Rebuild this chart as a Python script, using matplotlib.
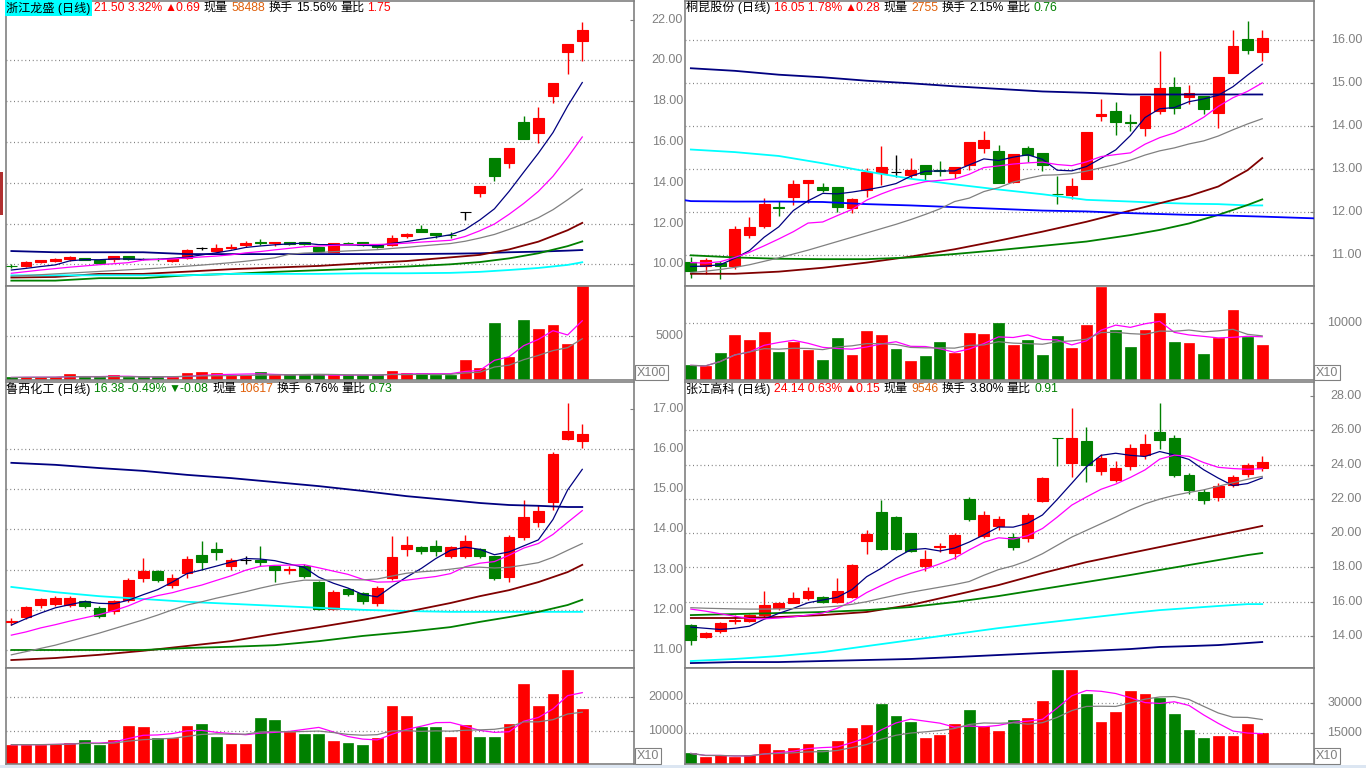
import matplotlib
matplotlib.use('Agg')
import matplotlib.pyplot as plt
from matplotlib.transforms import blended_transform_factory
import numpy as np
import pandas as pd

# ---------------- data ----------------
# 浙江龙盛 (top-left)
tl_open  = [9.93, 9.94, 10.13, 10.18, 10.26, 10.31, 10.20, 10.24, 10.41, 10.27,
            10.26, 10.18, 10.29, 10.78, 10.65, 10.78, 10.93, 11.07, 11.02, 11.07,
            11.07, 10.86, 10.62, 11.03, 11.07, 10.94, 10.94, 11.40, 11.72, 11.53,
            11.46, 12.55, 13.50, 15.19, 14.98, 16.99, 16.46, 18.26, 20.41, 20.95]
tl_high  = [10.00, 10.16, 10.21, 10.33, 10.41, 10.31, 10.20, 10.41, 10.41, 10.31,
            10.33, 10.31, 10.75, 10.87, 10.99, 10.98, 11.15, 11.22, 11.07, 11.10,
            11.07, 10.86, 11.04, 11.07, 11.10, 10.94, 11.43, 11.51, 11.92, 11.53,
            11.56, 12.55, 13.82, 15.19, 15.72, 17.28, 17.72, 18.89, 20.81, 21.90]
tl_low   = [9.82, 9.89, 10.08, 10.13, 10.16, 10.19, 10.05, 10.11, 10.23, 10.20,
            10.18, 10.11, 10.24, 10.70, 10.62, 10.75, 10.86, 10.94, 10.89, 10.97,
            10.95, 10.62, 10.60, 10.99, 10.89, 10.78, 10.89, 11.27, 11.56, 11.27,
            11.30, 12.16, 13.30, 14.07, 14.72, 16.13, 15.93, 17.93, 19.35, 19.97]
tl_close = [9.92, 10.10, 10.21, 10.26, 10.36, 10.21, 10.08, 10.41, 10.24, 10.26,
            10.25, 10.31, 10.70, 10.78, 10.78, 10.83, 11.04, 11.06, 11.07, 11.01,
            11.01, 10.67, 11.04, 11.02, 10.94, 10.86, 11.27, 11.48, 11.59, 11.45,
            11.45, 12.55, 13.82, 14.33, 15.72, 16.16, 17.19, 18.89, 20.81, 21.50]
tl_vol   = [344, 382, 382, 382, 687, 382, 382, 573, 382, 382,
            382, 382, 802, 916, 802, 573, 573, 916, 573, 611,
            611, 611, 611, 611, 611, 611, 1030, 802, 802, 611,
            611, 2290, 1374, 6527, 2634, 6870, 5840, 6298, 4122, 10650]

# 桐昆股份 (top-right)
tr_open  = [10.85, 10.74, 10.81, 10.76, 11.47, 11.68, 12.12, 12.36, 12.69, 12.58,
            12.58, 12.11, 12.52, 12.92, 12.93, 12.87, 13.10, 12.98, 12.91, 13.10,
            13.50, 13.43, 12.71, 13.50, 13.38, 12.43, 12.40, 12.78, 14.24, 14.36,
            14.09, 13.97, 14.36, 14.91, 14.67, 14.71, 14.32, 15.23, 16.03, 15.72]
tr_high  = [10.95, 10.93, 10.87, 11.67, 11.89, 12.33, 12.26, 12.75, 12.74, 12.68,
            12.58, 12.34, 13.04, 13.54, 13.33, 13.26, 13.10, 13.19, 13.05, 13.63,
            13.89, 13.57, 13.36, 13.55, 13.38, 12.85, 12.79, 13.86, 14.64, 14.57,
            14.29, 14.71, 15.75, 15.14, 14.95, 14.71, 15.14, 16.24, 16.45, 16.24]
tr_low   = [10.47, 10.57, 10.44, 10.67, 11.41, 11.64, 11.91, 12.17, 12.21, 12.48,
            12.00, 11.98, 12.36, 12.64, 12.83, 12.79, 12.75, 12.85, 12.79, 12.98,
            13.37, 12.69, 12.69, 13.16, 12.97, 12.19, 12.31, 12.78, 14.12, 13.80,
            13.89, 13.78, 14.28, 14.28, 14.52, 14.29, 13.95, 15.23, 15.69, 15.52]
tr_close = [10.64, 10.88, 10.76, 11.61, 11.66, 12.19, 12.09, 12.66, 12.74, 12.52,
            12.13, 12.30, 12.93, 13.05, 12.93, 12.98, 12.88, 12.97, 13.05, 13.63,
            13.68, 12.69, 13.36, 13.33, 13.10, 12.42, 12.61, 13.86, 14.28, 14.09,
            14.08, 14.71, 14.88, 14.42, 14.77, 14.40, 15.14, 15.87, 15.77, 16.05]
tr_vol   = [2647, 2470, 4823, 7941, 7058, 8470, 4941, 6764, 5294, 3529,
            7411, 4412, 8647, 7941, 5470, 3411, 4235, 6705, 4823, 8353,
            8176, 10058, 6176, 7058, 4412, 7764, 5705, 9705, 16411, 8823,
            5823, 8823, 11823, 6764, 6588, 4588, 7470, 12352, 7647, 6176]

# 鲁西化工 (bottom-left)
bl_open  = [11.70, 11.82, 12.12, 12.15, 12.12, 12.22, 12.05, 11.97, 12.25, 12.79,
            12.97, 12.62, 12.92, 13.37, 13.51, 13.09, 13.24, 13.24, 13.09, 12.99,
            13.09, 12.69, 12.02, 12.52, 12.42, 12.17, 12.79, 13.51, 13.56, 13.59,
            13.34, 13.34, 13.51, 13.34, 12.81, 13.81, 14.19, 14.68, 16.25, 16.20]
bl_high  = [11.80, 12.10, 12.30, 12.35, 12.35, 12.25, 12.10, 12.25, 12.80, 13.30,
            13.00, 12.90, 13.35, 13.72, 13.70, 13.30, 13.35, 13.60, 13.10, 13.10,
            13.15, 12.72, 12.50, 12.55, 12.45, 12.60, 13.85, 13.85, 13.60, 13.75,
            13.60, 13.86, 13.55, 13.35, 13.86, 14.73, 14.61, 15.93, 17.15, 16.63]
bl_low   = [11.62, 11.78, 12.05, 12.10, 12.08, 12.05, 11.80, 11.90, 12.20, 12.70,
            12.70, 12.55, 12.80, 13.00, 13.25, 13.00, 13.15, 13.09, 12.69, 12.90,
            12.80, 12.00, 12.00, 12.35, 12.15, 12.10, 12.75, 13.35, 13.40, 13.35,
            13.30, 13.30, 13.30, 12.75, 12.70, 13.75, 14.05, 14.48, 16.22, 16.03]
bl_close = [11.72, 12.07, 12.27, 12.30, 12.29, 12.10, 11.85, 12.22, 12.74, 12.97,
            12.74, 12.79, 13.27, 13.19, 13.45, 13.24, 13.24, 13.20, 12.99, 13.02,
            12.84, 12.02, 12.44, 12.39, 12.22, 12.54, 13.32, 13.61, 13.46, 13.46,
            13.56, 13.71, 13.34, 12.79, 13.81, 14.31, 14.46, 15.88, 16.46, 16.38]
bl_vol   = [5880, 5880, 5880, 6170, 6470, 7350, 5880, 7350, 11470, 11170,
            7940, 7940, 11470, 12050, 8230, 6170, 6170, 13820, 13230, 9700,
            9110, 9110, 7060, 6470, 5880, 7940, 17350, 14400, 11170, 11170,
            8230, 11760, 8230, 8230, 12050, 23810, 17350, 20870, 27930, 16460]

# 张江高科 (bottom-right)
br_open  = [14.64, 13.94, 14.30, 14.90, 14.85, 15.20, 15.65, 15.95, 16.20, 16.30,
            16.00, 16.30, 19.55, 21.25, 20.95, 20.00, 18.10, 19.20, 18.85, 22.00,
            19.85, 20.40, 19.80, 19.70, 21.90, 25.56, 24.10, 25.40, 23.60, 23.10,
            23.90, 24.55, 25.90, 25.55, 23.40, 22.40, 22.10, 22.80, 23.45, 23.80]
br_high  = [14.70, 14.25, 14.80, 15.20, 15.30, 16.60, 16.00, 16.55, 16.85, 16.35,
            17.40, 18.20, 20.20, 21.95, 21.00, 20.00, 19.00, 19.40, 20.00, 22.10,
            21.30, 21.00, 20.00, 21.20, 23.30, 25.56, 27.30, 26.20, 24.60, 24.20,
            25.20, 25.80, 27.60, 25.70, 23.50, 22.60, 22.90, 23.40, 24.10, 24.50]
br_low   = [13.50, 13.90, 14.20, 14.70, 14.80, 15.10, 15.50, 15.90, 16.10, 15.95,
            15.90, 16.20, 18.80, 19.00, 19.00, 18.90, 17.80, 18.90, 18.50, 20.70,
            19.70, 20.20, 19.00, 19.50, 21.80, 23.90, 23.30, 23.00, 23.40, 23.00,
            23.70, 24.30, 24.90, 23.30, 22.30, 21.70, 21.90, 22.70, 23.30, 23.60]
br_close = [13.76, 14.20, 14.75, 14.95, 15.20, 15.80, 15.90, 16.20, 16.60, 16.00,
            16.60, 18.15, 19.95, 19.05, 19.05, 18.95, 18.50, 19.25, 19.90, 20.80,
            21.05, 20.80, 19.20, 21.05, 23.20, 25.55, 25.55, 24.00, 24.40, 23.80,
            24.95, 25.20, 25.45, 23.40, 22.50, 21.95, 22.75, 23.27, 23.99, 24.14]
br_vol   = [5000, 3000, 4000, 3000, 4000, 9500, 6500, 7500, 9500, 6500,
            11000, 17500, 19000, 29500, 23500, 20500, 12500, 14000, 19500, 26500,
            18500, 16000, 21500, 22500, 31000, 46500, 46500, 34500, 20500, 25500,
            36000, 34500, 32500, 24500, 16500, 12500, 13500, 13500, 19500, 15000]

# short moving averages: values for the first candles
# (before a full window of closes is on screen); the rest come from the closes
tl_ma5_head  = [9.72, 9.80, 9.89, 9.97]
tl_ma10_head = [9.56, 9.64, 9.72, 9.79, 9.86, 9.92, 9.98, 10.03, 10.08]
tl_ma20_head = [9.41, 9.45, 9.49, 9.53, 9.57, 9.61, 9.65, 9.69, 9.73, 9.77,
                9.81, 9.86, 9.91, 9.96, 10.02, 10.08, 10.15, 10.23, 10.32]
tr_ma5_head  = [10.74, 10.75, 10.78, 10.93]
tr_ma10_head = [10.83, 10.82, 10.85, 10.95, 11.07, 11.22, 11.38, 11.55, 11.75]
tr_ma20_head = [10.60, 10.63, 10.67, 10.72, 10.78, 10.86, 10.94, 11.03, 11.12, 11.22,
                11.32, 11.42, 11.52, 11.62, 11.72, 11.83, 11.95, 12.08, 12.25]
bl_ma5_head  = [11.62, 11.78, 11.92, 12.05]
bl_ma10_head = [11.37, 11.45, 11.55, 11.63, 11.72, 11.80, 11.88, 11.98, 12.10]
bl_ma20_head = [10.88, 10.96, 11.04, 11.12, 11.22, 11.32, 11.42, 11.53, 11.64, 11.75,
                11.87, 12.00, 12.12, 12.20, 12.29, 12.37, 12.45, 12.54, 12.62]
br_ma5_head  = [14.52, 14.45, 14.38, 14.45]
br_ma10_head = [15.57, 15.45, 15.30, 15.15, 15.02, 15.00, 15.05, 15.12, 15.22]
br_ma20_head = [15.65, 15.62, 15.60, 15.58, 15.57, 15.57, 15.58, 15.60, 15.63, 15.68,
                15.74, 15.85, 16.00, 16.20, 16.38, 16.55, 16.70, 16.85, 17.00]

# long moving averages, read at these candle indices
ma_idx = [0, 3, 6, 9, 12, 15, 18, 21, 24, 27, 30, 32, 34, 36, 38, 39]
tl_ma_navy = [10.65, 10.59, 10.59, 10.59, 10.50, 10.50, 10.50, 10.50, 10.50, 10.50, 10.52, 10.54, 10.59, 10.62, 10.67, 10.70]
tl_ma_dred = [9.35, 9.38, 9.53, 9.53, 9.64, 9.76, 9.84, 9.92, 10.05, 10.16, 10.34, 10.46, 10.73, 11.11, 11.67, 12.03]
tl_ma_grn  = [9.20, 9.20, 9.32, 9.32, 9.46, 9.53, 9.63, 9.71, 9.79, 9.89, 10.00, 10.11, 10.29, 10.54, 10.89, 11.12]
tl_ma_cyan = [9.46, 9.46, 9.46, 9.46, 9.46, 9.53, 9.53, 9.53, 9.56, 9.56, 9.58, 9.63, 9.72, 9.82, 9.97, 10.10]

tr_ma_navy = [15.35, 15.29, 15.20, 15.14, 15.06, 15.00, 14.93, 14.87, 14.81, 14.78, 14.74, 14.74, 14.74, 14.74, 14.74, 14.74]
tr_ma_cyan = [13.46, 13.40, 13.31, 13.14, 12.95, 12.78, 12.65, 12.53, 12.42, 12.29, 12.25, 12.22, 12.20, 12.19, 12.16, 12.16]
tr_ma_blue = [12.26, 12.25, 12.25, 12.24, 12.19, 12.16, 12.12, 12.08, 12.04, 12.02, 11.98, 11.96, 11.94, 11.93, 11.91, 11.90]
tr_ma_blue_edges = [12.28, 11.86]
tr_ma_dred = [10.57, 10.57, 10.62, 10.71, 10.83, 10.97, 11.14, 11.34, 11.55, 11.78, 12.04, 12.21, 12.38, 12.60, 12.98, 13.26]
tr_ma_grn  = [11.00, 10.95, 10.92, 10.91, 10.91, 10.95, 11.03, 11.12, 11.22, 11.32, 11.47, 11.59, 11.74, 11.94, 12.17, 12.30]

bl_ma_navy = [15.66, 15.61, 15.53, 15.46, 15.36, 15.28, 15.18, 15.08, 14.96, 14.83, 14.73, 14.66, 14.61, 14.59, 14.56, 14.56]
bl_ma_cyan = [12.57, 12.44, 12.34, 12.27, 12.20, 12.15, 12.10, 12.05, 12.00, 11.97, 11.95, 11.95, 11.95, 11.95, 11.95, 11.95]
bl_ma_grn  = [11.00, 11.00, 11.00, 11.00, 11.05, 11.08, 11.12, 11.22, 11.35, 11.45, 11.57, 11.70, 11.82, 11.95, 12.12, 12.25]
bl_ma_dred = [10.75, 10.80, 10.88, 10.98, 11.10, 11.22, 11.40, 11.57, 11.75, 11.95, 12.17, 12.34, 12.49, 12.69, 12.94, 13.12]

br_ma_navy = [12.42, 12.48, 12.48, 12.54, 12.60, 12.66, 12.77, 12.89, 13.01, 13.12, 13.24, 13.36, 13.41, 13.47, 13.59, 13.65]
br_ma_cyan = [12.54, 12.66, 12.83, 13.06, 13.41, 13.76, 14.11, 14.46, 14.76, 15.05, 15.34, 15.51, 15.63, 15.75, 15.86, 15.86]
br_ma_grn  = [15.22, 15.28, 15.34, 15.40, 15.51, 15.69, 15.98, 16.33, 16.74, 17.15, 17.56, 17.85, 18.14, 18.43, 18.72, 18.84]
br_ma_dred = [15.05, 15.05, 15.11, 15.22, 15.40, 15.81, 16.39, 16.97, 17.67, 18.31, 18.84, 19.19, 19.54, 19.89, 20.24, 20.42]

# axis tick labels
tl_ticks = [10, 12, 14, 16, 18, 20, 22]
tr_ticks = [11, 12, 13, 14, 15, 16]
bl_ticks = [11, 12, 13, 14, 15, 16, 17]
br_ticks = [14, 16, 18, 20, 22, 24, 26, 28]
tl_vticks = [5000]
tr_vticks = [10000]
bl_vticks = [10000, 20000]
br_vticks = [15000, 30000]

# title texts: (text, colour key)
tl_title = [("浙江龙盛 (日线)", "k"), ("21.50 3.32%", "r"), ("▲0.69", "r"), ("现量", "k"),
            ("58488", "o"), ("换手", "k"), ("15.56%", "k"), ("量比", "k"), ("1.75", "r")]
tr_title = [("桐昆股份 (日线)", "k"), ("16.05 1.78%", "r"), ("▲0.28", "r"), ("现量", "k"),
            ("2755", "o"), ("换手", "k"), ("2.15%", "k"), ("量比", "k"), ("0.76", "g")]
bl_title = [("鲁西化工 (日线)", "k"), ("16.38 -0.49%", "g"), ("▼-0.08", "g"), ("现量", "k"),
            ("10617", "o"), ("换手", "k"), ("6.76%", "k"), ("量比", "k"), ("0.73", "g")]
br_title = [("张江高科 (日线)", "k"), ("24.14 0.63%", "r"), ("▲0.15", "r"), ("现量", "k"),
            ("9546", "o"), ("换手", "k"), ("3.80%", "k"), ("量比", "k"), ("0.91", "g")]

# ---------------- style ----------------
RED = '#FF0000'
GREEN = '#008000'
BLACK = '#000000'
GRAY = '#808080'
TXT = {'k': '#000000', 'r': '#FF0000', 'g': '#008000', 'o': '#E0600A'}
FONT = ['Liberation Sans', 'Noto Sans CJK SC', 'DejaVu Sans']
plt.rcParams['font.family'] = FONT

W, H = 1366, 768
fig = plt.figure(figsize=(W / 100, H / 100), dpi=100)
fig.patch.set_facecolor('white')
renderer = fig.canvas.get_renderer()


def rect(x0, y0, x1, y1):
    return [x0 / W, 1 - y1 / H, (x1 - x0) / W, (y1 - y0) / H]


def px_range(y0, p0, y1, p1, top, bottom):
    k = (p1 - p0) / (y1 - y0)
    return (p0 + (bottom - y0) * k, p0 + (top - y0) * k)


def moving_avg(values, window, head):
    m = pd.Series(values, dtype=float).rolling(window).mean().to_numpy()
    m[:len(head)] = head
    return m


XL = (-0.4, 42.5)
DOT = (0, (0.8, 2.2))


def style_axes(ax):
    ax.set_xlim(*XL)
    ax.set_xticks([])
    for s in ax.spines.values():
        s.set_color(GRAY)
        s.set_linewidth(1.2)
    ax.set_facecolor('white')
    ax.tick_params(axis='y', which='both', direction='in', length=3, color=GRAY,
                   left=False, right=True, labelleft=False, labelright=False)


def draw_panel(px0, px1, ptop, pbot, vbot, o, h, l, c, v, heads, plim, vlim,
               ticks, gridp, vticks, long_lines, label_x, unit, unit_x):
    axp = fig.add_axes(rect(px0, ptop, px1, pbot))
    axv = fig.add_axes(rect(px0, pbot, px1, vbot))
    for ax in (axp, axv):
        style_axes(ax)
    axp.set_yticks(ticks)
    axv.set_yticks(vticks)
    axp.set_ylim(*plim)
    axv.set_ylim(*vlim)
    o, h, l, c, v = (np.asarray(a, float) for a in (o, h, l, c, v))
    n = len(c)
    x = np.arange(n)
    prev = np.r_[c[0], c[:-1]]
    cc = np.where(c > o, RED, np.where(c < o, GREEN, BLACK))
    vc = np.where(c > o, RED, np.where(c < o, GREEN, np.where(c >= prev, RED, GREEN)))
    for g in gridp:
        axp.axhline(g, color=GRAY, lw=0.9, ls=DOT, zorder=0)
    for g in vticks:
        axv.axhline(g, color=GRAY, lw=0.9, ls=DOT, zorder=0)
    # candles
    axp.vlines(x, l, h, colors=cc, lw=1.0, zorder=2)
    axp.bar(x, np.abs(c - o), bottom=np.minimum(o, c), width=0.74, color=cc,
            edgecolor=cc, linewidth=0.8, zorder=3)
    # short moving averages of the closes
    for win, head, col in zip((5, 10, 20), heads, ('#000080', '#FF00FF', '#808080')):
        axp.plot(x, moving_avg(c, win, head), color=col, lw=0.9, zorder=5)
    for idx, vals, col in long_lines:
        axp.plot(idx, vals, color=col, lw=1.3, zorder=4)
    # volume
    axv.bar(x, v, width=0.74, color=vc, edgecolor=vc, linewidth=0.5, zorder=2)
    vs = pd.Series(v)
    axv.plot(x, vs.rolling(5, min_periods=1).mean(), color='#FF00FF', lw=0.9, zorder=4)
    axv.plot(x, vs.rolling(10, min_periods=1).mean(), color='#808080', lw=0.9, zorder=4)
    # value labels to the right of the panel
    trp = blended_transform_factory(fig.transFigure, axp.transData)
    trv = blended_transform_factory(fig.transFigure, axv.transData)
    for t in ticks:
        fig.text(label_x / W, t, f"{t:.2f}", transform=trp, ha='right', va='center',
                 fontsize=9, color=GRAY, family='Liberation Sans')
    for t in vticks:
        fig.text(label_x / W, t, f"{t:d}", transform=trv, ha='right', va='center',
                 fontsize=9, color=GRAY, family='Liberation Sans')
    fig.text(unit_x / W, 1 - (vbot - 8) / H, unit, ha='left', va='center', fontsize=9,
             color=GRAY, family='Liberation Sans',
             bbox=dict(boxstyle='square,pad=0.15', facecolor='white', edgecolor=GRAY, lw=0.8))
    return axp, axv


def draw_title(x_px, y_px, parts, highlight=False):
    xx = x_px
    for i, (txt, key) in enumerate(parts):
        t = fig.text(xx / W, 1 - y_px / H, txt, color=TXT[key], fontsize=8.7,
                     ha='left', va='center', family=FONT)
        if i == 0 and highlight:
            t.set_bbox(dict(boxstyle='square,pad=0.12', facecolor='#00FFFF', edgecolor='none'))
        bb = t.get_window_extent(renderer=renderer)
        xx += bb.width + 3.2


# layout (pixels)
LX0, LX1 = 5.5, 633.5
RX0, RX1 = 685.0, 1313.5
TT, TP, TV = 1.0, 285.5, 380.5
BT, BP, BV = 381.5, 667.5, 764.0

tl_plim = px_range(264.3, 10, 60.3, 20, TT, TP)
tr_plim = px_range(255.3, 11, 40.3, 16, TT, TP)
bl_plim = px_range(650.0, 11, 409.0, 17, BT, BP)
br_plim = px_range(636.0, 14, 396.0, 28, BT, BP)

tl_vlim = px_range(380.5, 0, 336.3, 5000, TP, TV)
tr_vlim = px_range(380.5, 0, 323.3, 10000, TP, TV)
bl_vlim = px_range(764.5, 0, 697.0, 20000, BP, BV)
br_vlim = px_range(763.5, 0, 703.0, 30000, BP, BV)

draw_panel(LX0, LX1, TT, TP, TV, tl_open, tl_high, tl_low, tl_close, tl_vol,
           (tl_ma5_head, tl_ma10_head, tl_ma20_head),
           tl_plim, tl_vlim, tl_ticks, tl_ticks[:-1], tl_vticks,
           [(ma_idx, tl_ma_navy, '#000080'), (ma_idx, tl_ma_dred, '#800000'),
            (ma_idx, tl_ma_grn, '#008000'), (ma_idx, tl_ma_cyan, '#00FFFF')],
           683, 'X100', 637)
axp_tr, _ = draw_panel(RX0, RX1, TT, TP, TV, tr_open, tr_high, tr_low, tr_close, tr_vol,
                       (tr_ma5_head, tr_ma10_head, tr_ma20_head),
                       tr_plim, tr_vlim, tr_ticks, tr_ticks, tr_vticks,
                       [(ma_idx, tr_ma_navy, '#000080'), (ma_idx, tr_ma_cyan, '#00FFFF'),
                        (ma_idx, tr_ma_dred, '#800000'), (ma_idx, tr_ma_grn, '#008000')],
                       1362, 'X10', 1316)
# the blue average runs across the whole panel
axp_tr.plot([XL[0]] + ma_idx + [XL[1]],
            [tr_ma_blue_edges[0]] + tr_ma_blue + [tr_ma_blue_edges[1]],
            color='#0000FF', lw=1.3, zorder=4)
draw_panel(LX0, LX1, BT, BP, BV, bl_open, bl_high, bl_low, bl_close, bl_vol,
           (bl_ma5_head, bl_ma10_head, bl_ma20_head),
           bl_plim, bl_vlim, bl_ticks, bl_ticks[:-1], bl_vticks,
           [(ma_idx, bl_ma_navy, '#000080'), (ma_idx, bl_ma_cyan, '#00FFFF'),
            (ma_idx, bl_ma_dred, '#800000'), (ma_idx, bl_ma_grn, '#008000')],
           683, 'X10', 637)
draw_panel(RX0, RX1, BT, BP, BV, br_open, br_high, br_low, br_close, br_vol,
           (br_ma5_head, br_ma10_head, br_ma20_head),
           br_plim, br_vlim, br_ticks, br_ticks[:-1], br_vticks,
           [(ma_idx, br_ma_navy, '#000080'), (ma_idx, br_ma_cyan, '#00FFFF'),
            (ma_idx, br_ma_dred, '#800000'), (ma_idx, br_ma_grn, '#008000')],
           1362, 'X10', 1316)

draw_title(6, 8, tl_title, highlight=True)
draw_title(686, 8, tr_title)
draw_title(6, 389, bl_title)
draw_title(686, 389, br_title)

# window edge decorations
fig.patches.append(plt.Rectangle((0, 0), 1, 3.5 / H, transform=fig.transFigure,
                                 facecolor='#DCE6F2', edgecolor='none', zorder=0))
fig.patches.append(plt.Rectangle((0, 1 - 215 / H), 3 / W, 43 / H, transform=fig.transFigure,
                                 facecolor='#B03030', edgecolor='none', zorder=0))

fig.savefig('out.png', dpi=100)
